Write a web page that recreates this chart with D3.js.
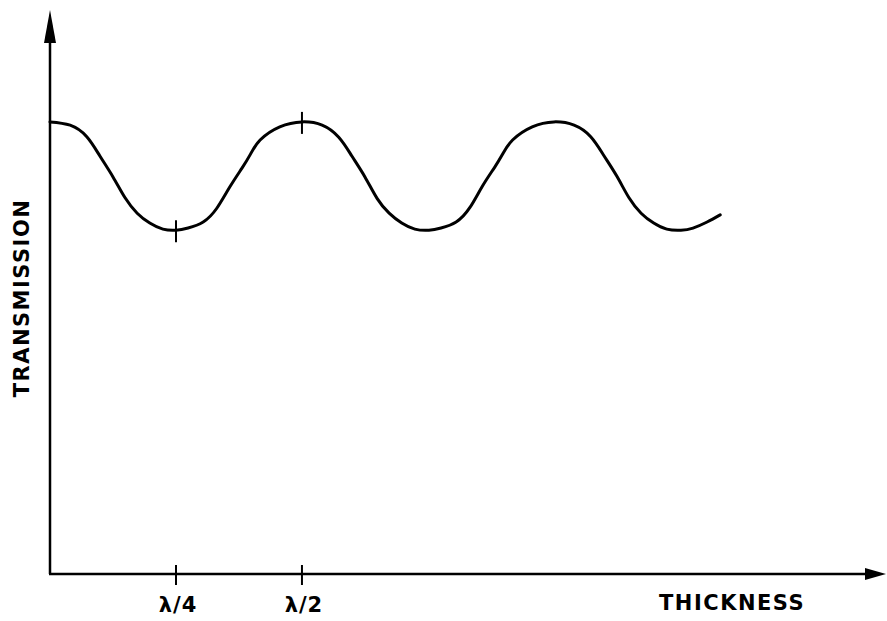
<!DOCTYPE html>
<html>
<head>
<meta charset="utf-8">
<script src="https://cdn.jsdelivr.net/npm/d3@7"></script>
<style>
  body { margin: 0; background: #fff; }
  .axisText { font-family: "DejaVu Sans", sans-serif; font-weight: bold; font-size: 21px; fill: #000; }
</style>
</head>
<body>
<div id="chart"></div>
<script>
var svgWidth = 887;
var svgHeight = 621;

// thickness in units of wavelength, transmission in arbitrary units
var thickness = [0, 0.04, 0.073, 0.099, 0.125, 0.149, 0.173, 0.198, 0.224, 0.25, 0.274, 0.304, 0.331, 0.357, 0.381, 0.397, 0.417, 0.456, 0.50,
  0.54, 0.573, 0.599, 0.625, 0.649, 0.673, 0.698, 0.724, 0.752, 0.776, 0.806, 0.833, 0.858, 0.882, 0.898, 0.918, 0.957, 1.0,
  1.04, 1.073, 1.099, 1.125, 1.149, 1.173, 1.198, 1.224, 1.252, 1.276, 1.304, 1.33];
var transmission = [82.2, 81.6, 79.5, 76.0, 72.2, 68.4, 65.6, 63.8, 62.7, 62.5, 62.9, 64.0, 66.5, 70.4, 73.8, 76.2, 78.9, 81.3, 82.2,
  81.6, 79.4, 76.0, 72.2, 68.3, 65.6, 63.8, 62.7, 62.5, 62.9, 64.0, 66.6, 70.5, 73.9, 76.3, 78.9, 81.3, 82.2,
  81.6, 79.5, 76.1, 72.3, 68.4, 65.6, 63.8, 62.7, 62.5, 62.9, 64.0, 65.3];

// marked thicknesses (ticks on axis and on the curve)
var tickValues = [0.25, 0.5];
var tickLabels = ["\u03bb/4", "\u03bb/2"];

var xLabel = "THICKNESS";
var yLabel = "TRANSMISSION";

var margin = { top: 24, right: 1, bottom: 47, left: 50 };
var xMax = 1.659;

var svg = d3.select("#chart")
  .append("svg")
  .attr("width", svgWidth)
  .attr("height", svgHeight);

var xScale = d3.scaleLinear()
  .domain([0, xMax])
  .range([margin.left, svgWidth - margin.right]);

var yScale = d3.scaleLinear()
  .domain([0, 100])
  .range([svgHeight - margin.bottom, margin.top]);

var x0 = xScale(0), y0 = yScale(0);

// axes with arrows
svg.append("line")
  .attr("x1", x0).attr("y1", y0)
  .attr("x2", x0).attr("y2", 30)
  .attr("stroke", "#000").attr("stroke-width", 2.5);
svg.append("path")
  .attr("d", "M" + x0 + ",10 L" + (x0 - 6) + ",43 L" + (x0 + 6) + ",43 Z")
  .attr("fill", "#000");

svg.append("line")
  .attr("x1", x0 - 1).attr("y1", y0)
  .attr("x2", 870).attr("y2", y0)
  .attr("stroke", "#000").attr("stroke-width", 2.5);
svg.append("path")
  .attr("d", "M886," + y0 + " L865," + (y0 - 6) + " L865," + (y0 + 6) + " Z")
  .attr("fill", "#000");

// curve
var data = thickness.map(function(t, i) { return { t: t, v: transmission[i] }; });

var line = d3.line()
  .x(function(d) { return xScale(d.t); })
  .y(function(d) { return yScale(d.v); })
  .curve(d3.curveNatural);

svg.append("path")
  .datum(data)
  .attr("d", line)
  .attr("fill", "none")
  .attr("stroke", "#000")
  .attr("stroke-width", 3)
  .attr("stroke-linecap", "round");

// ticks on x axis
svg.selectAll(".xtick")
  .data(tickValues)
  .enter().append("line")
  .attr("x1", function(d) { return xScale(d); })
  .attr("x2", function(d) { return xScale(d); })
  .attr("y1", y0 - 9)
  .attr("y2", y0 + 11)
  .attr("stroke", "#000").attr("stroke-width", 2);

// tick marks on curve at the same thicknesses
var interp = d3.scaleLinear().domain(thickness).range(transmission);
svg.selectAll(".ctick")
  .data(tickValues)
  .enter().append("line")
  .attr("x1", function(d) { return xScale(d); })
  .attr("x2", function(d) { return xScale(d); })
  .attr("y1", function(d) { return yScale(interp(d)) - 10; })
  .attr("y2", function(d) { return yScale(interp(d)) + 12; })
  .attr("stroke", "#000").attr("stroke-width", 2);

svg.selectAll(".tlabel")
  .data(tickValues)
  .enter().append("text")
  .attr("class", "axisText")
  .attr("x", function(d) { return xScale(d) + 2; })
  .attr("y", 612)
  .attr("text-anchor", "middle")
  .attr("letter-spacing", "1px")
  .text(function(d, i) { return tickLabels[i]; });

svg.append("text")
  .attr("class", "axisText")
  .attr("x", 659)
  .attr("y", 610)
  .attr("letter-spacing", "1.5px")
  .text(xLabel);

svg.append("text")
  .attr("class", "axisText")
  .attr("transform", "translate(29,298) rotate(-90)")
  .attr("text-anchor", "middle")
  .attr("letter-spacing", "1.5px")
  .text(yLabel);
</script>
</body>
</html>
